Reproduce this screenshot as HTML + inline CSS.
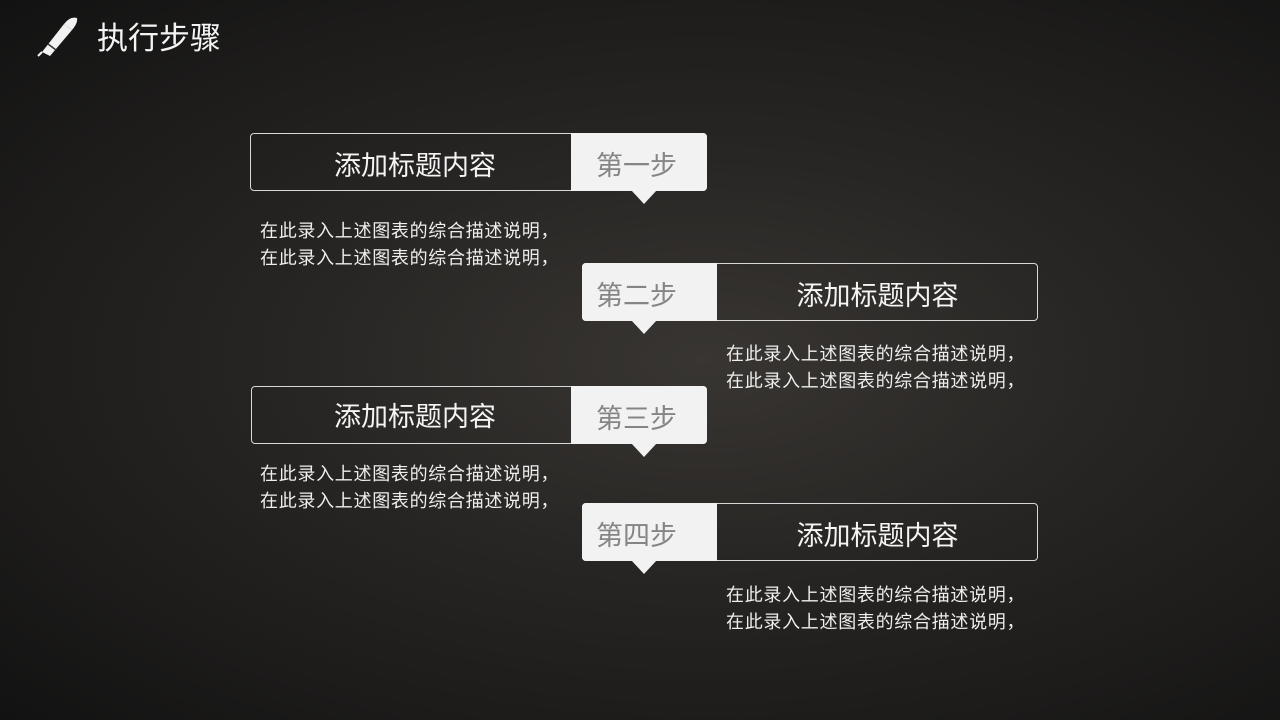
<!DOCTYPE html>
<html><head><meta charset="utf-8"><style>
body{margin:0;width:1280px;height:720px;overflow:hidden;font-family:"Liberation Sans","Noto Sans CJK SC",sans-serif;
background:radial-gradient(ellipse at 55% 50%,#383532 0%,#282624 40%,#1c1b1a 75%,#121212 100%);position:relative;color:#fff}
.box{position:absolute;height:58px;border:1px solid #d8d8d8;border-radius:4px;box-sizing:border-box}
.g{position:absolute;background:#f2f2f2;height:58px;color:#858585;font-size:27px;line-height:66px;text-align:left;width:136px;box-sizing:border-box}
.g:after{content:"";position:absolute;bottom:-13px;border-left:13px solid transparent;border-right:13px solid transparent;border-top:14px solid #f2f2f2}
.r{padding-left:25px}.r:after{left:60px}
.l{padding-left:14px}.l:after{left:49px}
.t{position:absolute;font-size:27px;line-height:66px;text-align:center;color:#f4f4f4}
.d{position:absolute;font-size:18px;line-height:27px;color:#eee;white-space:nowrap;letter-spacing:0.7px}
</style></head><body>
<svg style="position:absolute;left:34px;top:14px" width="46" height="44" viewBox="0 0 46 44">
<path d="M8 38 L30 10 L38 16 L16 42 Z" fill="#f2f2f2"/><path d="M30 10 Q36 2 43 4 Q44 9 38 16Z" fill="#f2f2f2"/>
<path d="M4 42 L8 38" stroke="#f2f2f2" stroke-width="2"/><path d="M14 30 L22 36" stroke="#333" stroke-width="1.5"/>
</svg>
<div style="position:absolute;left:97px;top:19px;font-size:31px;line-height:40px;color:#f4f4f4">执行步骤</div>

<div class="box" style="left:250px;top:133px;width:457px"></div>
<div class="g r" style="left:571px;top:133px;border-radius:0 4px 4px 0">第一步</div>
<div class="t" style="left:250px;top:133px;width:330px">添加标题内容</div>
<div class="d" style="left:260px;top:218px">在此录入上述图表的综合描述说明，<br>在此录入上述图表的综合描述说明，</div>

<div class="box" style="left:582px;top:263px;width:456px"></div>
<div class="g l" style="left:582px;top:263px;border-radius:4px 0 0 4px;width:135px">第二步</div>
<div class="t" style="left:717px;top:263px;width:321px">添加标题内容</div>
<div class="d" style="left:726px;top:341px">在此录入上述图表的综合描述说明，<br>在此录入上述图表的综合描述说明，</div>

<div class="box" style="left:251px;top:386px;width:456px"></div>
<div class="g r" style="left:571px;top:386px;border-radius:0 4px 4px 0">第三步</div>
<div class="t" style="left:251px;top:384px;width:328px">添加标题内容</div>
<div class="d" style="left:260px;top:461px">在此录入上述图表的综合描述说明，<br>在此录入上述图表的综合描述说明，</div>

<div class="box" style="left:582px;top:503px;width:456px"></div>
<div class="g l" style="left:582px;top:503px;border-radius:4px 0 0 4px;width:135px">第四步</div>
<div class="t" style="left:717px;top:503px;width:321px">添加标题内容</div>
<div class="d" style="left:726px;top:582px">在此录入上述图表的综合描述说明，<br>在此录入上述图表的综合描述说明，</div>
</body></html>
